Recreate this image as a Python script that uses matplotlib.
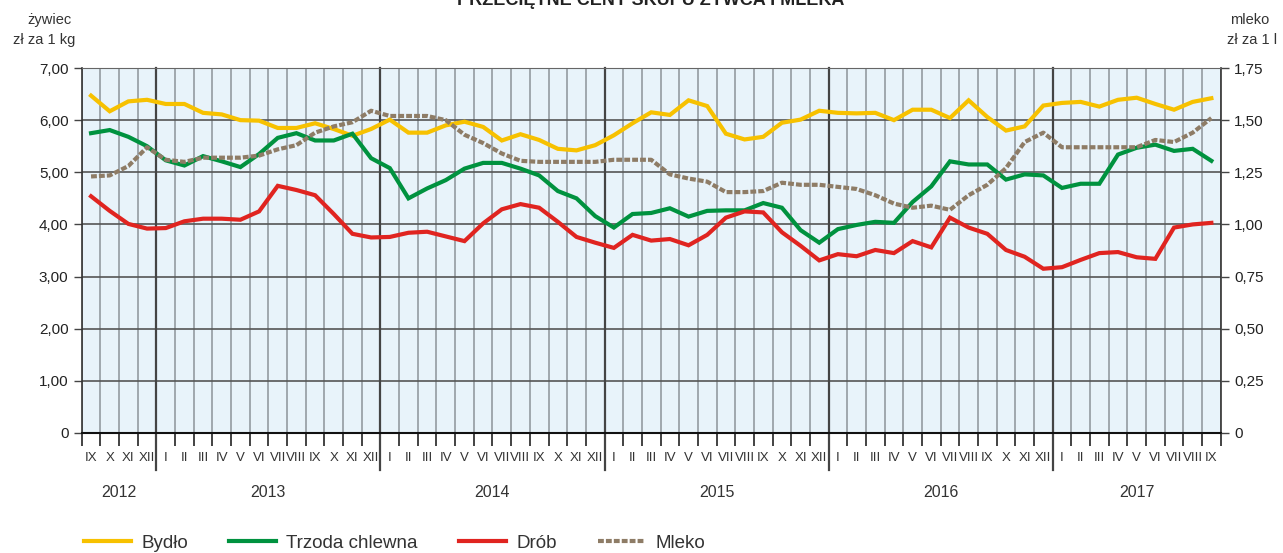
import numpy as np
import matplotlib
matplotlib.use("Agg")
import matplotlib.pyplot as plt
from matplotlib.lines import Line2D

plt.rcParams["font.family"] = ["Liberation Sans", "DejaVu Sans"]

# months IX 2012 .. IX 2017
months = (["IX", "X", "XI", "XII"]
          + ["I", "II", "III", "IV", "V", "VI", "VII", "VIII", "IX", "X", "XI", "XII"] * 4
          + ["I", "II", "III", "IV", "V", "VI", "VII", "VIII", "IX"])
years = ["2012", "2013", "2014", "2015", "2016", "2017"]
year_len = [4, 12, 12, 12, 12, 9]

# zł za 1 kg
bydlo = [6.47, 6.17, 6.36, 6.39, 6.31, 6.31, 6.14, 6.11, 6.00, 5.99, 5.85, 5.85,
         5.94, 5.83, 5.70, 5.83, 6.01, 5.76, 5.76, 5.90, 5.97, 5.87, 5.61, 5.73,
         5.62, 5.45, 5.42, 5.52, 5.71, 5.94, 6.15, 6.10, 6.38, 6.27, 5.74, 5.63,
         5.68, 5.95, 6.01, 6.18, 6.14, 6.13, 6.14, 6.00, 6.20, 6.20, 6.04, 6.38,
         6.06, 5.80, 5.88, 6.28, 6.33, 6.35, 6.26, 6.39, 6.43, 6.31, 6.20, 6.35, 6.42]
trzoda = [5.75, 5.81, 5.68, 5.50, 5.23, 5.13, 5.31, 5.21, 5.10, 5.35, 5.66, 5.75,
          5.61, 5.61, 5.74, 5.27, 5.08, 4.50, 4.69, 4.85, 5.07, 5.18, 5.18, 5.07,
          4.94, 4.64, 4.50, 4.16, 3.94, 4.20, 4.22, 4.31, 4.15, 4.26, 4.27, 4.27,
          4.41, 4.32, 3.89, 3.65, 3.91, 3.99, 4.05, 4.03, 4.43, 4.73, 5.21, 5.15,
          5.15, 4.86, 4.96, 4.94, 4.70, 4.78, 4.78, 5.34, 5.47, 5.53, 5.41, 5.45, 5.22]
drob = [4.54, 4.26, 4.01, 3.92, 3.93, 4.06, 4.11, 4.11, 4.09, 4.25, 4.74, 4.66,
        4.56, 4.20, 3.82, 3.75, 3.76, 3.84, 3.86, 3.77, 3.68, 4.02, 4.29, 4.39,
        4.32, 4.05, 3.76, 3.65, 3.55, 3.80, 3.69, 3.72, 3.60, 3.80, 4.13, 4.25,
        4.23, 3.85, 3.59, 3.31, 3.43, 3.39, 3.51, 3.45, 3.68, 3.56, 4.13, 3.94,
        3.82, 3.51, 3.38, 3.15, 3.18, 3.32, 3.45, 3.47, 3.37, 3.34, 3.94, 4.00, 4.03]
# zł za 1 l
mleko = [1.23, 1.235, 1.28, 1.37, 1.31, 1.30, 1.32, 1.32, 1.32, 1.33, 1.36, 1.38,
         1.44, 1.47, 1.49, 1.545, 1.52, 1.52, 1.52, 1.50, 1.43, 1.39, 1.34, 1.305,
         1.30, 1.30, 1.30, 1.30, 1.31, 1.31, 1.31, 1.24, 1.22, 1.205, 1.155, 1.155,
         1.16, 1.20, 1.19, 1.19, 1.18, 1.17, 1.14, 1.10, 1.08, 1.09, 1.07, 1.14,
         1.19, 1.27, 1.395, 1.44, 1.37, 1.37, 1.37, 1.37, 1.37, 1.405, 1.395, 1.44, 1.51]

c_bydlo, c_trzoda, c_drob, c_mleko = "#f7c100", "#00923f", "#e02420", "#8e7c66"

x = np.arange(len(months))
n = len(months)

fig = plt.figure(figsize=(12.83, 5.53), dpi=100)
ax = fig.add_axes([81.7 / 1283, 1 - 433 / 553, (1220.7 - 81.7) / 1283, 365 / 553])
ax.set_facecolor("#e8f3fa")
ax.set_xlim(-0.5, n - 0.5)
ax.set_ylim(0, 7)

# month grid / ticks
ax.set_xticks(np.arange(n + 1) - 0.5)
ax.set_xticklabels([])
ax.set_xticks(x, labels=months, minor=True)
ax.tick_params(axis="x", which="major", length=9, width=1.2, color="#222222", direction="out")
ax.tick_params(axis="x", which="minor", length=0, pad=14, labelsize=9.5, colors="#333333")
ax.grid(axis="x", which="major", color="#9aa2a8", lw=1.3, zorder=1)

ax.set_yticks(np.arange(0, 8))
ax.set_yticklabels(["0"] + [f"{v},00" for v in range(1, 8)])
ax.tick_params(axis="y", length=6, width=1, color="#444444", labelsize=11, colors="#222222")
ax.grid(axis="y", color="#555555", lw=1.2, zorder=1)

for s in ["left", "right"]:
    ax.spines[s].set_color("#333333")
    ax.spines[s].set_linewidth(1.2)
ax.spines["bottom"].set_color("#111111")
ax.spines["bottom"].set_linewidth(1.5)
ax.spines["top"].set_color("#666666")

# year separators and labels
bounds = np.cumsum(year_len)
for b in bounds[:-1]:
    ax.plot([b - 0.5, b - 0.5], [7, -0.71], color="#444444", lw=1.6, clip_on=False, zorder=2)
starts = np.concatenate([[0], bounds[:-1]])
for yl, s, ln in zip(years, starts, year_len):
    ax.text(s + (ln - 1) / 2, -1.14, yl, ha="center", va="center", fontsize=11.5, color="#333333")

ax.plot(x, bydlo, color=c_bydlo, lw=3, zorder=4, solid_joinstyle="miter")
ax.plot(x, trzoda, color=c_trzoda, lw=3, zorder=4, solid_joinstyle="miter")
ax.plot(x, drob, color=c_drob, lw=3, zorder=4, solid_joinstyle="miter")

ax2 = ax.twinx()
ax2.set_ylim(0, 1.75)
ax2.set_yticks(np.arange(0, 1.76, 0.25))
ax2.set_yticklabels(["0"] + [f"{v:.2f}".replace(".", ",") for v in np.arange(0.25, 1.76, 0.25)])
ax2.tick_params(axis="y", length=6, width=1, color="#444444", labelsize=11, colors="#222222")
for s in ax2.spines.values():
    s.set_visible(False)
ax2.plot(x, mleko, color=c_mleko, lw=3, dashes=(1.4, 0.5), zorder=3)

fig.text(0.507, 1 - 5 / 553, "PRZECIĘTNE CENY SKUPU ŻYWCA I MLEKA", ha="center",
         va="baseline", fontsize=13, fontweight="bold", color="#222222")
fig.text(50 / 1283, 1 - 20 / 553, "żywiec", ha="center", va="center", fontsize=10.5, color="#333333")
fig.text(44 / 1283, 1 - 40 / 553, "zł za 1 kg", ha="center", va="center", fontsize=10.5, color="#333333")
fig.text(1250 / 1283, 1 - 20 / 553, "mleko", ha="center", va="center", fontsize=10.5, color="#333333")
fig.text(1252 / 1283, 1 - 40 / 553, "zł za 1 l", ha="center", va="center", fontsize=10.5, color="#333333")

handles = [Line2D([], [], color=c_bydlo, lw=3),
           Line2D([], [], color=c_trzoda, lw=3),
           Line2D([], [], color=c_drob, lw=3),
           Line2D([], [], color=c_mleko, lw=3, dashes=(1.4, 0.5))]
fig.legend(handles, ["Bydło", "Trzoda chlewna", "Drób", "Mleko"], ncol=4, frameon=False,
           loc="center left", bbox_to_anchor=(67 / 1283, 1 - 543 / 553), fontsize=13.5,
           handlelength=2.5, columnspacing=2.2, handletextpad=0.55, labelcolor="#333333")

fig.savefig("out.png", dpi=100)
